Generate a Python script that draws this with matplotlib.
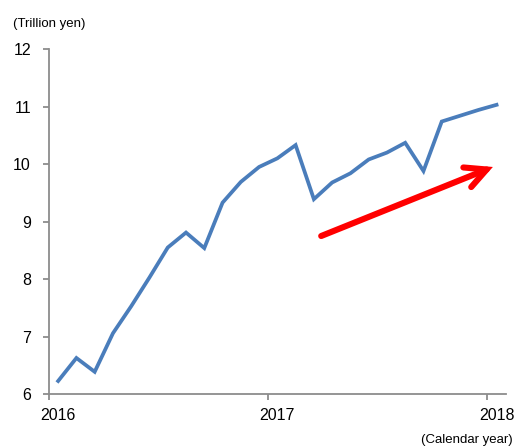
import matplotlib
matplotlib.use("Agg")
import matplotlib.pyplot as plt
from matplotlib.patches import FancyArrowPatch

plt.rcParams['font.family'] = ['Liberation Sans', 'DejaVu Sans']

# Monthly values, Jan 2016 .. Jan 2018 (trillion yen)
values = [6.23, 6.63, 6.39, 7.06, 7.53, 8.03, 8.55, 8.81, 8.54, 9.33, 9.69, 9.95,
          10.10, 10.33, 9.39, 9.68, 9.84, 10.08, 10.20, 10.37, 9.88, 10.74, 10.84,
          10.94, 11.03]
year_labels = ["2016", "2017", "2018"]
year_starts = [0, 12, 24]          # month index of each year start
y_ticks = [6, 7, 8, 9, 10, 11, 12]
arrow_start = (14.9, 8.75)         # (month index, value)
arrow_end = (24.3, 9.95)

months = [i + 0.5 for i in range(len(values))]

fig = plt.figure(figsize=(5.16, 4.48), dpi=100)
ax = fig.add_axes([0.095, 0.120, 0.885, 0.7706])

ax.plot(months, values, color='#4a7dbb', lw=2.7, solid_joinstyle='miter')

arr = FancyArrowPatch(arrow_start, arrow_end, arrowstyle='->,head_length=0.75,head_width=0.38',
                      mutation_scale=20, color='#ff0000', lw=4.4, shrinkA=0, shrinkB=0,
                      capstyle='round', joinstyle='miter')
ax.add_patch(arr)

ax.set_xlim(0, 25)
ax.set_ylim(6, 12)
ax.set_yticks(y_ticks)
ax.set_yticklabels([str(v) for v in y_ticks])
ax.set_xticks(year_starts)
ax.set_xticklabels([])
ax.set_xticks([s + 0.5 for s in year_starts], minor=True)
ax.set_xticklabels(year_labels, minor=True)

grey = '#8c8c8c'
for s in ['top', 'right']:
    ax.spines[s].set_visible(False)
for s in ['left', 'bottom']:
    ax.spines[s].set_color(grey)
    ax.spines[s].set_linewidth(1.3)

ax.tick_params(axis='both', which='major', color=grey, width=1.3, length=4,
               labelsize=11.5, labelcolor='black')
ax.tick_params(axis='y', which='major', pad=9)
ax.tick_params(axis='x', which='minor', length=0, pad=10, labelsize=11.5)

fig.text(13 / 516, 1 - 24 / 448, "(Trillion yen)", fontsize=9.5, va='center', ha='left')
fig.text(513 / 516, 1 - 440 / 448, "(Calendar year)", fontsize=9.5, va='center', ha='right')

fig.savefig("out.png", dpi=100)
